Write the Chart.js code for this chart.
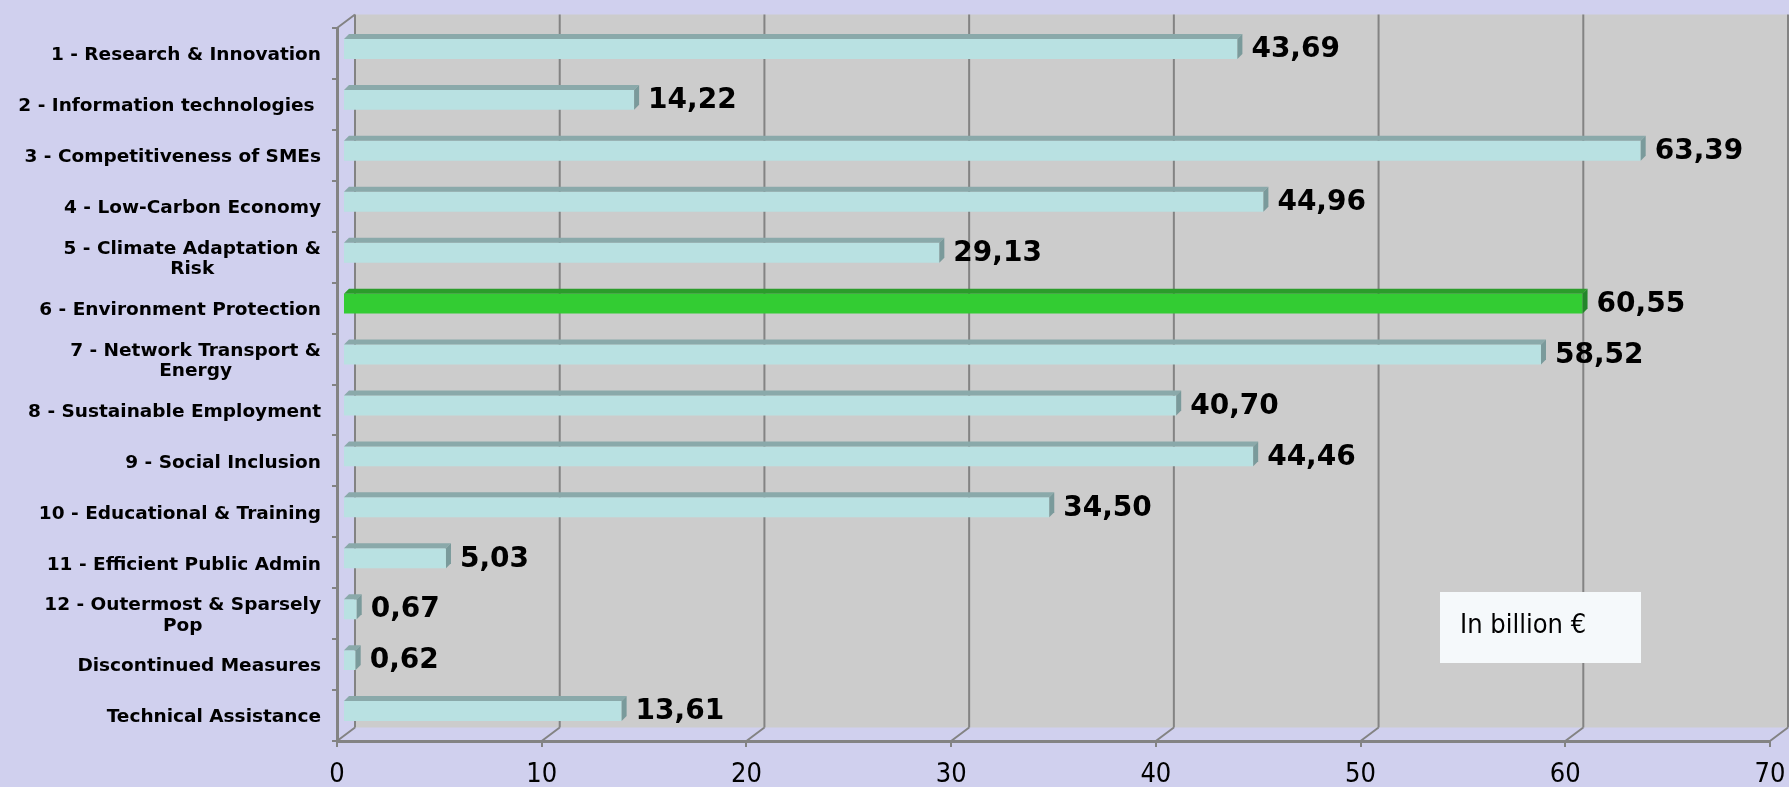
<!DOCTYPE html>
<html lang="en">
<head>
<meta charset="UTF-8">
<title>Allocation by thematic objective</title>
<script src="https://cdn.jsdelivr.net/npm/chart.js@4.4.0/dist/chart.umd.min.js"></script>
<style>
  html, body { margin: 0; padding: 0; background: #d0d0ee; }
  canvas { display: block; }
</style>
</head>
<body>
<canvas id="canvas" width="1789" height="787"></canvas>
<script>
// thematic objectives, one entry per bar (inner arrays = wrapped lines)
const categories = [
  ['1 - Research & Innovation'],
  ['2 - Information technologies '],
  ['3 - Competitiveness of SMEs'],
  ['4 - Low-Carbon Economy'],
  ['5 - Climate Adaptation &', 'Risk'],
  ['6 - Environment Protection'],
  ['7 - Network Transport &', 'Energy'],
  ['8 - Sustainable Employment'],
  ['9 - Social Inclusion'],
  ['10 - Educational & Training'],
  ['11 - Efficient Public Admin'],
  ['12 - Outermost & Sparsely', 'Pop'],
  ['Discontinued Measures'],
  ['Technical Assistance']
]
// billion euro
const amounts = [43.69, 14.22, 63.39, 44.96, 29.13, 60.55, 58.52, 40.70, 44.46, 34.50, 5.03, 0.67, 0.62, 13.61]
const highlighted = [5]
const xTicks = [0, 10, 20, 30, 40, 50, 60, 70]
const unitNote = 'In billion €'

const BG = '#d0d0ee'
const WALL_FILL = '#cccccc'
const LINE = '#838383'
const WALL = { dx: 18, dy: 13.5 }       // back wall offset from the front axes
const BAR_SHIFT = { dx: 6, dy: 4.5 }    // bars sit a bit behind the front plane
const BAR_DEPTH = { dx: 5, dy: 5 }
const PLAIN = { front: '#b9e1e2', top: '#8aa9aa', side: '#7a9a9b' }
const GREEN = { front: '#33cc33', top: '#2b9c2b', side: '#23862a' }

const FONT = "'DejaVu Sans', Verdana, sans-serif"
const NARROW = "'DejaVu Sans Condensed', 'DejaVu Sans', sans-serif"

const fmt = v => v.toFixed(2).replace('.', ',')
const paletteFor = i => highlighted.includes(i) ? GREEN : PLAIN

const depthPlugin = {
  id: 'depth',
  beforeDraw(chart) {
    const { ctx, chartArea: a, scales: { x } } = chart
    ctx.save()
    ctx.fillStyle = BG
    ctx.fillRect(0, 0, chart.width, chart.height)

    ctx.fillStyle = WALL_FILL
    ctx.fillRect(a.left + WALL.dx, a.top - WALL.dy, a.right - a.left, a.bottom - a.top)

    ctx.strokeStyle = LINE
    ctx.lineWidth = 2
    ctx.beginPath()
    x.ticks.forEach(t => {
      const px = x.getPixelForValue(t.value)
      ctx.moveTo(px + WALL.dx, a.top - WALL.dy)
      ctx.lineTo(px + WALL.dx, a.bottom - WALL.dy)
      ctx.moveTo(px, a.bottom)
      ctx.lineTo(px + WALL.dx, a.bottom - WALL.dy)
    })
    ctx.moveTo(a.left, a.top)
    ctx.lineTo(a.left + WALL.dx, a.top - WALL.dy)
    ctx.stroke()
    ctx.restore()
  },
  beforeDatasetsDraw(chart) {
    chart.ctx.save()
    chart.ctx.translate(BAR_SHIFT.dx, -BAR_SHIFT.dy)
  },
  afterDatasetsDraw(chart) {
    const { ctx } = chart
    const meta = chart.getDatasetMeta(0)
    meta.data.forEach((bar, i) => {
      const { x, y, base, height } = bar.getProps(['x', 'y', 'base', 'height'], true)
      const c = paletteFor(i)
      const y0 = y - height / 2
      const y1 = y + height / 2
      // top face
      ctx.fillStyle = c.top
      ctx.beginPath()
      ctx.moveTo(base, y0)
      ctx.lineTo(x, y0)
      ctx.lineTo(x + BAR_DEPTH.dx, y0 - BAR_DEPTH.dy)
      ctx.lineTo(base + BAR_DEPTH.dx, y0 - BAR_DEPTH.dy)
      ctx.closePath()
      ctx.fill()
      // end face
      ctx.fillStyle = c.side
      ctx.beginPath()
      ctx.moveTo(x, y0)
      ctx.lineTo(x + BAR_DEPTH.dx, y0 - BAR_DEPTH.dy)
      ctx.lineTo(x + BAR_DEPTH.dx, y1 - BAR_DEPTH.dy)
      ctx.lineTo(x, y1)
      ctx.closePath()
      ctx.fill()
      // value label
      ctx.fillStyle = '#000'
      ctx.font = `bold 28px ${FONT}`
      ctx.textAlign = 'left'
      ctx.textBaseline = 'middle'
      ctx.fillText(fmt(amounts[i]), x + BAR_DEPTH.dx + 9, y + 1)
    })
    ctx.restore()
  },
  afterDraw(chart) {
    const { ctx, chartArea: a, scales: { y } } = chart
    ctx.save()
    ctx.fillStyle = '#000'
    ctx.font = `bold 18.5px ${FONT}`
    ctx.textBaseline = 'middle'
    ctx.textAlign = 'center'
    const right = a.left - 16
    categories.forEach((lines, i) => {
      const cy = y.getPixelForValue(i) + 2
      const widest = Math.max(...lines.map(l => ctx.measureText(l).width))
      const cx = right - widest / 2
      const lh = 20.5
      lines.forEach((l, k) => {
        ctx.fillText(l, cx, cy + (k - (lines.length - 1) / 2) * lh)
      })
    })

    // unit note
    ctx.fillStyle = '#f5f9fb'
    ctx.fillRect(1440, 592, 201, 71)
    ctx.fillStyle = '#000'
    ctx.font = `27px ${NARROW}`
    ctx.textAlign = 'left'
    ctx.fillText(unitNote, 1460, 626)
    ctx.restore()
  }
}

new Chart(document.getElementById('canvas').getContext('2d'), {
  type: 'bar',
  data: {
    labels: categories,
    datasets: [{
      data: amounts,
      backgroundColor: amounts.map((v, i) => paletteFor(i).front),
      borderWidth: 0,
      categoryPercentage: 0.8,
      barPercentage: 0.49
    }]
  },
  options: {
    indexAxis: 'y',
    responsive: false,
    animation: false,
    devicePixelRatio: 1,
    layout: { padding: { left: 0, top: 28, right: 19, bottom: 0 } },
    plugins: { legend: { display: false }, tooltip: { enabled: false } },
    scales: {
      x: {
        min: xTicks[0],
        max: xTicks[xTicks.length - 1],
        afterBuildTicks: s => { s.ticks = xTicks.map(v => ({ value: v })) },
        afterFit: s => {
          s.height = 46
          s.paddingLeft = 0
          s.paddingRight = 0
        },
        ticks: {
          color: '#000',
          padding: 12,
          maxRotation: 0,
          font: { family: NARROW, size: 27 }
        },
        grid: { drawOnChartArea: false, color: LINE, lineWidth: 2, tickLength: 6 },
        border: { color: LINE, width: 3 }
      },
      y: {
        afterFit: s => { s.width = 337 },
        ticks: { display: false },
        grid: { drawOnChartArea: false, color: LINE, lineWidth: 2, tickLength: 5, offset: true },
        border: { color: LINE, width: 3 }
      }
    }
  },
  plugins: [depthPlugin]
})
</script>
</body>
</html>
